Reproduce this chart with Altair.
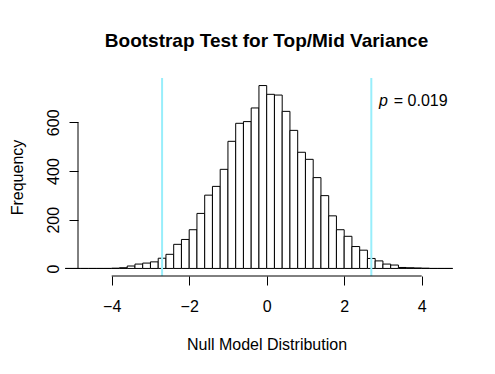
import altair as alt
import pandas as pd

# Histogram bins (left edges, width 0.2) and counts
bin_starts = [round(-5.2 + 0.2 * i, 1) for i in range(50)]
counts = [0, 0, 0, 0, 0, 0,
          1, 3, 10, 18, 22, 27, 42, 58, 99, 119,
          159, 226, 301, 337, 407, 522, 596, 603, 659, 751,
          715, 712, 645, 567, 477, 448, 373, 299, 216, 159,
          132, 90, 75, 41, 31, 18, 14, 4, 3, 2,
          1, 0, 0, 0]
bin_width = 0.2

critical = [-2.70, 2.70]
x_ticks = [-4, -2, 0, 2, 4]
y_ticks = [0, 200, 400, 600]
p_label = "0.019"

FONT = "Liberation Sans"

hist_df = pd.DataFrame({"start": bin_starts,
                        "end": [round(s + bin_width, 1) for s in bin_starts],
                        "count": counts})
crit_df = pd.DataFrame({"x": critical})

xs = alt.Scale(domain=[-4.87, 4.86], nice=False, zero=False)
ys = alt.Scale(domain=[-31, 782], nice=False, zero=False)

xaxis = alt.Axis(values=x_ticks, domain=False, grid=False, tickSize=9,
                 tickColor="black", labelFontSize=16, labelColor="black",
                 labelFont=FONT, labelPadding=13, title="Null Model Distribution",
                 titleFont=FONT, titleFontSize=16, titleFontWeight="normal",
                 titleColor="black", titlePadding=22, format="d")
yaxis = alt.Axis(values=y_ticks, domain=False, grid=False, tickSize=9,
                 tickColor="black", labelFontSize=16, labelColor="black",
                 labelFont=FONT, labelAngle=270, labelAlign="center",
                 labelBaseline="bottom", labelPadding=8, title="Frequency",
                 titleFont=FONT, titleFontSize=16, titleFontWeight="normal",
                 titleColor="black", titlePadding=20, format="d")

bars = alt.Chart(hist_df).mark_rect(fill="white", stroke="black",
                                    strokeWidth=1, clip=False).encode(
    x=alt.X("start:Q", scale=xs, axis=xaxis),
    x2="end:Q",
    y=alt.Y("count:Q", scale=ys, axis=yaxis),
    y2=alt.datum(0),
)

rules = alt.Chart(crit_df).mark_rule(color="#98EEFB", strokeWidth=2).encode(
    x=alt.X("x:Q", scale=xs)
)

x_line = alt.Chart(pd.DataFrame({"a": [x_ticks[0]], "b": [x_ticks[-1]], "y": [-31]})).mark_rule(
    color="black", strokeWidth=1).encode(
    x=alt.X("a:Q", scale=xs), x2="b:Q", y=alt.Y("y:Q", scale=ys))

y_line = alt.Chart(pd.DataFrame({"x": [-4.87], "a": [y_ticks[0]], "b": [y_ticks[-1]]})).mark_rule(
    color="black", strokeWidth=1).encode(
    x=alt.X("x:Q", scale=xs), y=alt.Y("a:Q", scale=ys), y2="b:Q")

ann_df = pd.DataFrame({"x": [2.90], "x2": [3.28], "y": [687]})
p_italic = alt.Chart(ann_df).mark_text(text="p", fontStyle="italic", fontSize=16,
                                       font=FONT, align="left", baseline="middle",
                                       color="black").encode(
    x=alt.X("x:Q", scale=xs), y=alt.Y("y:Q", scale=ys))
p_value = alt.Chart(ann_df).mark_text(text="= " + p_label, fontSize=16, font=FONT,
                                      align="left", baseline="middle",
                                      color="black").encode(
    x=alt.X("x2:Q", scale=xs), y=alt.Y("y:Q", scale=ys))

chart = alt.layer(bars, rules, x_line, y_line, p_italic, p_value).properties(
    width=377, height=198,
    background="white",
    title=alt.TitleParams("Bootstrap Test for Top/Mid Variance", font=FONT,
                          fontSize=19, fontWeight="bold", color="black",
                          anchor="middle", frame="group", offset=26),
    autosize=alt.AutoSizeParams(type="none"),
    padding={"left": 70, "top": 70, "right": 30, "bottom": 88},
).configure_view(stroke="transparent", strokeWidth=0)

chart.save("out.html", embed_options={"renderer": "svg", "actions": False})
